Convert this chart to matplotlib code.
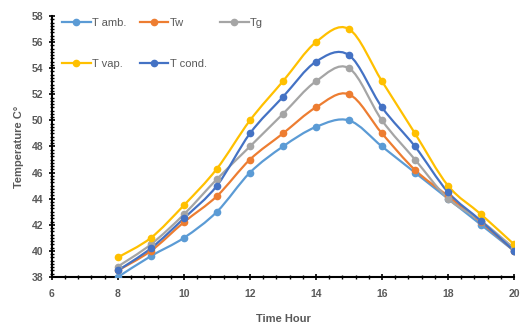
import numpy as np
import matplotlib
matplotlib.use('Agg')
import matplotlib.pyplot as plt
from matplotlib.path import Path
from matplotlib.patches import PathPatch
from matplotlib.ticker import MultipleLocator

# ── DATA ──
hours = [8, 9, 10, 11, 12, 13, 14, 15, 16, 17, 18, 19, 20]
t_amb = [38.0, 39.6, 41.0, 43.0, 46.0, 48.0, 49.5, 50.0, 48.0, 46.0, 44.0, 42.0, 40.0]
t_w = [38.5, 40.0, 42.2, 44.2, 47.0, 49.0, 51.0, 52.0, 49.0, 46.2, 44.2, 42.2, 40.0]
t_g = [38.8, 40.5, 42.8, 45.5, 48.0, 50.5, 53.0, 54.0, 50.0, 47.0, 44.0, 42.3, 40.2]
t_vap = [39.5, 41.0, 43.5, 46.3, 50.0, 53.0, 56.0, 57.0, 53.0, 49.0, 45.0, 42.8, 40.5]
t_cond = [38.5, 40.2, 42.5, 45.0, 49.0, 51.8, 54.5, 55.0, 51.0, 48.0, 44.5, 42.3, 40.0]

series = [
    ('T amb.', t_amb, '#5b9bd5'),
    ('Tw', t_w, '#ed7d31'),
    ('Tg', t_g, '#a5a5a5'),
    ('T vap.', t_vap, '#ffc000'),
    ('T cond.', t_cond, '#4472c4'),
]

TXT = '#595959'
plt.rcParams['font.family'] = ['Liberation Sans', 'DejaVu Sans']


def smooth_path(x, y, t=0.5):
    # excel-style smoothed line: cardinal spline through the points as bezier segments
    x = np.asarray(x, float)
    y = np.asarray(y, float)
    verts = [(x[0], y[0])]
    codes = [Path.MOVETO]
    n = len(x)
    for i in range(n - 1):
        x0, y0 = (x[i - 1], y[i - 1]) if i > 0 else (x[i], y[i])
        x3, y3 = (x[i + 2], y[i + 2]) if i + 2 < n else (x[i + 1], y[i + 1])
        c1 = (x[i] + (x[i + 1] - x0) * t / 3, y[i] + (y[i + 1] - y0) * t / 3)
        c2 = (x[i + 1] - (x3 - x[i]) * t / 3, y[i + 1] - (y3 - y[i]) * t / 3)
        verts += [c1, c2, (x[i + 1], y[i + 1])]
        codes += [Path.CURVE4] * 3
    return Path(verts, codes)


fig = plt.figure(figsize=(5.24, 3.27), dpi=100)
ax = fig.add_axes([0.099, 0.153, 0.882, 0.798])

handles = {}
for name, vals, col in series:
    ax.add_patch(PathPatch(smooth_path(hours, vals), facecolor='none',
                           edgecolor=col, lw=1.6, zorder=3))
    ax.plot(hours, vals, color=col, marker='o', ms=4.5,
            linestyle='none', zorder=4)
    handles[name] = ax.plot([], [], color=col, lw=1.6, marker='o', ms=4.5)[0]

ax.set_xlim(6, 20)
ax.set_ylim(38, 58)
ax.xaxis.set_major_locator(MultipleLocator(2))
ax.xaxis.set_minor_locator(MultipleLocator(0.4))
ax.yaxis.set_major_locator(MultipleLocator(2))
ax.yaxis.set_minor_locator(MultipleLocator(0.25))

for s in ['top', 'right']:
    ax.spines[s].set_visible(False)
for s in ['left', 'bottom']:
    ax.spines[s].set_linewidth(1.5)
    ax.spines[s].set_color('black')

ax.tick_params(which='major', direction='inout', length=5, width=1.2,
               colors='black', labelcolor=TXT, labelsize=7.5)
ax.tick_params(axis='x', which='major', pad=6)
ax.tick_params(which='minor', direction='inout', length=3, width=1.0, colors='black')
for lab in ax.get_xticklabels() + ax.get_yticklabels():
    lab.set_fontweight('bold')

ax.set_xlabel('Time Hour', fontsize=8, fontweight='bold', color=TXT, labelpad=11)
ax.set_ylabel('Temperature C°', fontsize=8, fontweight='bold', color=TXT, labelpad=6)

order = ['T amb.', 'T vap.', 'Tw', 'T cond.', 'Tg']
leg = ax.legend([handles[k] for k in order], order, ncol=3, loc='upper left',
                bbox_to_anchor=(0.0, 1.03), frameon=False, fontsize=8,
                labelcolor=TXT, handlelength=2.6, handletextpad=0.1,
                columnspacing=1.2, labelspacing=2.8)

fig.savefig('out.png', dpi=100)
